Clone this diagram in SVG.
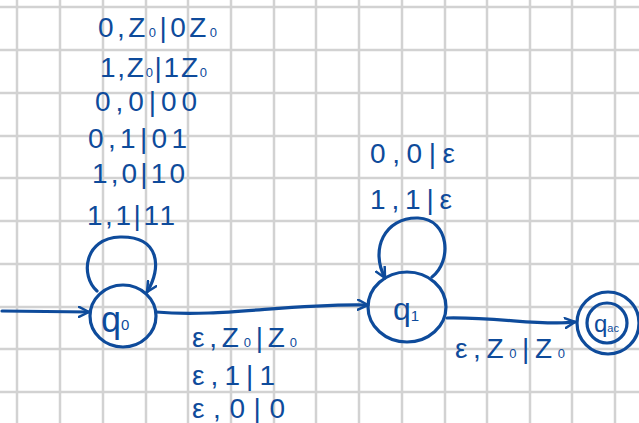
<svg xmlns="http://www.w3.org/2000/svg" width="639" height="423" viewBox="0 0 639 423">
<style>
.grid{stroke:#d2d2d2;stroke-width:2.5;fill:none}
.ink{stroke:#0e4b9b;stroke-width:3.2;fill:none;stroke-linecap:round;stroke-linejoin:round}
.lbl{font-family:"Liberation Sans","DejaVu Sans",sans-serif;font-size:28px;fill:#0e4b9b}
.nl{font-family:"Liberation Sans","DejaVu Sans",sans-serif;font-size:36px;fill:#0e4b9b}
.sub{font-size:13px}
</style>
<defs>
<marker id="arr" viewBox="0 0 12 12" refX="11" refY="6" markerWidth="12" markerHeight="12" markerUnits="userSpaceOnUse" orient="auto">
<path d="M1,1 L11,6 L1,11" fill="none" stroke="#0e4b9b" stroke-width="2.5" stroke-linecap="round" stroke-linejoin="round"/>
</marker>
</defs>
<rect width="639" height="423" fill="#ffffff"/>
<path class="grid" d="M17,0V423M60,0V423M103,0V423M146,0V423M188,0V423M231,0V423M274,0V423M316,0V423M359,0V423M402,0V423M445,0V423M487,0V423M530,0V423M572,0V423M615,0V423M0,7H639M0,50H639M0,93H639M0,136H639M0,178H639M0,221H639M0,264H639M0,307H639M0,349H639M0,392H639"/>
<g id="connectors">
<path class="ink" marker-end="url(#arr)" d="M2,311 L89,312"/>
<path class="ink" marker-end="url(#arr)" d="M97,291 C80,276 84,238 120,237 C160,236 162,268 147,292"/>
<path class="ink" marker-end="url(#arr)" d="M156,312 C220,318 290,303 368,305"/>
<path class="ink" marker-end="url(#arr)" d="M432,277 C452,262 450,219 418,218 C384,217 370,250 385,278"/>
<path class="ink" marker-end="url(#arr)" d="M447,318 C500,317 540,326 575,322"/>
<g class="lbl">
<text x="98" y="37" textLength="119" lengthAdjust="spacing">0,Z<tspan class="sub">0</tspan>|0Z<tspan class="sub">0</tspan></text>
<text x="100" y="77" textLength="107" lengthAdjust="spacing">1,Z<tspan class="sub">0</tspan>|1Z<tspan class="sub">0</tspan></text>
<text x="95" y="111" textLength="102" lengthAdjust="spacing">0,0|00</text>
<text x="88" y="148" textLength="99" lengthAdjust="spacing">0,1|01</text>
<text x="92" y="183" textLength="93" lengthAdjust="spacing">1,0|10</text>
<text x="87" y="225" textLength="88" lengthAdjust="spacing">1,1|11</text>
<text x="192" y="347" textLength="105" lengthAdjust="spacing">ε,Z<tspan class="sub">0</tspan>|Z<tspan class="sub">0</tspan></text>
<text x="192" y="385" textLength="83" lengthAdjust="spacing">ε,1|1</text>
<text x="192" y="418" textLength="93" lengthAdjust="spacing">ε,0|0</text>
<text x="370" y="163" textLength="85" lengthAdjust="spacing">0,0|ε</text>
<text x="370" y="209" textLength="82" lengthAdjust="spacing">1,1|ε</text>
<text x="455" y="358" textLength="110" lengthAdjust="spacing">ε,Z<tspan class="sub">0</tspan>|Z<tspan class="sub">0</tspan></text>
</g>
</g>
<g id="q0">
<ellipse class="ink" cx="123" cy="316" rx="33" ry="31"/>
<text class="nl" x="101" y="332">q<tspan style="font-size:15px" dy="-2">0</tspan></text>
</g>
<g id="q1">
<ellipse class="ink" cx="407" cy="307" rx="39" ry="35"/>
<text class="nl" x="393" y="320" style="font-size:32px">q<tspan style="font-size:15px" dy="1">1</tspan></text>
</g>
<g id="qacc">
<circle class="ink" cx="608" cy="323" r="31"/>
<circle class="ink" cx="607" cy="323" r="20"/>
<text class="nl" x="594" y="332" style="font-size:24px">q<tspan style="font-size:11px" dy="0">ac</tspan></text>
</g>
</svg>
